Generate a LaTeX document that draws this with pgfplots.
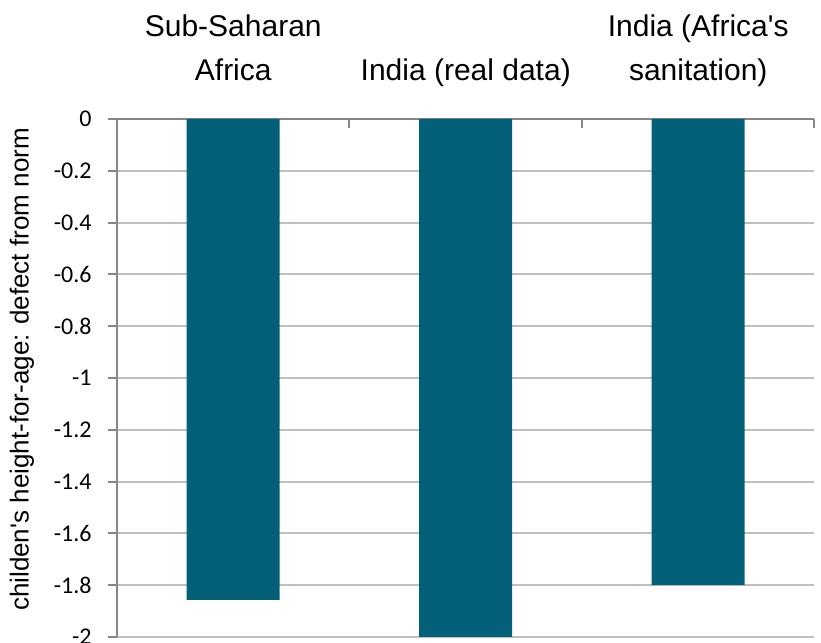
\documentclass[border=0pt]{standalone}
\usepackage{fontspec}
\setmainfont{Liberation Sans}
\newfontfamily\calib{Carlito}
\usepackage{pgfplots}
\pgfplotsset{compat=1.18}
\definecolor{barcol}{RGB}{4,96,120}
\definecolor{axgray}{RGB}{134,134,134}
\definecolor{grgray}{RGB}{191,191,191}
\begin{document}
\begin{tikzpicture}
\useasboundingbox (-58.5pt,-3pt) rectangle (352pt,318.5pt);
\clip (-58.5pt,-3pt) rectangle (352pt,318.5pt);
\begin{axis}[
  at={(0pt,0pt)}, anchor=south west,
  scale only axis, width=348.75pt, height=259pt,
  ybar, bar width=0.4,
  xmin=-0.5, xmax=2.5, ymin=-2, ymax=0,
  axis x line*=top, axis y line*=left,
  axis line style={-, draw=axgray, line width=1pt},
  xtick={-0.5,0.5,1.5,2.5}, xticklabels={,,,},
  extra x ticks={0,1,2},
  extra x tick labels={Sub-Saharan\\Africa, India (real data), India (Africa\textquotesingle s\\sanitation)},
  extra x tick style={major tick length=0pt, grid=none,
    xticklabel style={font=\fontsize{15}{22}\selectfont, align=center, anchor=south, inner sep=0pt, text depth=0pt, yshift=19pt}},
  x tick style={draw=axgray, line width=1pt},
  xtick align=inside,
  ytick={-2,-1.8,-1.6,-1.4,-1.2,-1,-0.8,-0.6,-0.4,-0.2,0},
  yticklabels={-2,-1.8,-1.6,-1.4,-1.2,-1,-0.8,-0.6,-0.4,-0.2,0},
  ytick align=outside,
  y tick style={draw=axgray, line width=1pt},
  major tick length=4.5pt,
  yticklabel style={font=\calib\fontsize{12}{14}\selectfont, anchor=east, inner sep=0pt, xshift=-8pt},
  ymajorgrids, grid style={draw=grgray, line width=1pt},
  ylabel={childen\textquotesingle s height-for-age: defect from norm},
  every axis y label/.style={at={(axis description cs:-0.1363,0.5164)}, rotate=90, anchor=center, font=\fontsize{13}{15}\selectfont},
]
\addplot[fill=barcol, draw=none] coordinates {(0,-1.857) (1,-2) (2,-1.8)};
\end{axis}
\end{tikzpicture}
\end{document}
